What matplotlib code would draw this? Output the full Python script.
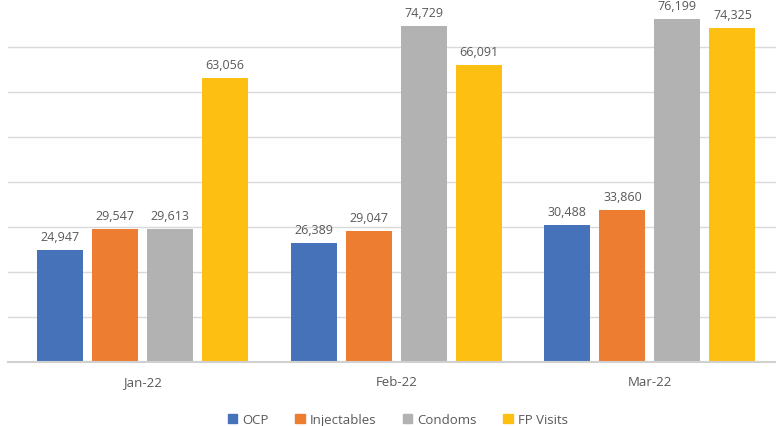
import matplotlib
matplotlib.use("Agg")
import matplotlib.pyplot as plt
import numpy as np
from matplotlib.patches import Patch

categories = ["Jan-22", "Feb-22", "Mar-22"]
series_names = ["OCP", "Injectables", "Condoms", "FP Visits"]
ocp = [24947, 26389, 30488]
injectables = [29547, 29047, 33860]
condoms = [29613, 74729, 76199]
fp_visits = [63056, 66091, 74325]
colors = ["#4672BA", "#ED7D31", "#B2B2B3", "#FCBF12"]

values = [ocp, injectables, condoms, fp_visits]

W, H = 776, 427
fig = plt.figure(figsize=(W/100, H/100), dpi=100)
ax_left, ax_right = 8, 776
base_y, top_y = 363, 363 - 45.0 * 8
ax = fig.add_axes([ax_left/W, 1 - base_y/H, (ax_right-ax_left)/W, (base_y-top_y)/H])

unit = 253.7
x = np.arange(len(categories))
width = 46 / unit
step = 55 / unit
for i, (vals, c) in enumerate(zip(values, colors)):
    pos = x + (i - 1.5) * step
    bars = ax.bar(pos, vals, width, color=c, zorder=3)
    for b, v in zip(bars, vals):
        ax.annotate(f"{v:,}", (b.get_x() + b.get_width()/2, v),
                    xytext=(0, 5), textcoords="offset points",
                    ha="center", va="bottom", fontsize=9,
                    color="#595959", family="Open Sans")

ax.set_xlim((ax_left - 142.5)/unit, (ax_right - 142.5)/unit)
ax.set_ylim(0, 80000)
ax.set_yticks(np.arange(10000, 70001, 10000))
ax.yaxis.grid(True, color="#D9D9D9", linewidth=1, zorder=0)
ax.tick_params(axis="y", left=False, labelleft=False)
ax.tick_params(axis="x", bottom=False, pad=6)
ax.set_xticks(x)
ax.set_xticklabels(categories, fontsize=9.5, color="#595959", family="Open Sans")
for s in ["top", "right", "left"]:
    ax.spines[s].set_visible(False)
ax.spines["bottom"].set_color("#D0D0D0")
ax.spines["bottom"].set_linewidth(1.5)
ax.spines["bottom"].set_zorder(4)

handles = [Patch(color=c, label=n) for c, n in zip(colors, series_names)]
leg = fig.legend(handles=handles, loc="center", bbox_to_anchor=(398/W, 1 - 420.5/H),
                 ncol=4, frameon=False, handlelength=0.7, handleheight=0.7,
                 handletextpad=0.4, columnspacing=2.0,
                 prop={"family": "Open Sans", "size": 9.5})
for t in leg.get_texts():
    t.set_color("#595959")

fig.savefig("out.png", dpi=100)
